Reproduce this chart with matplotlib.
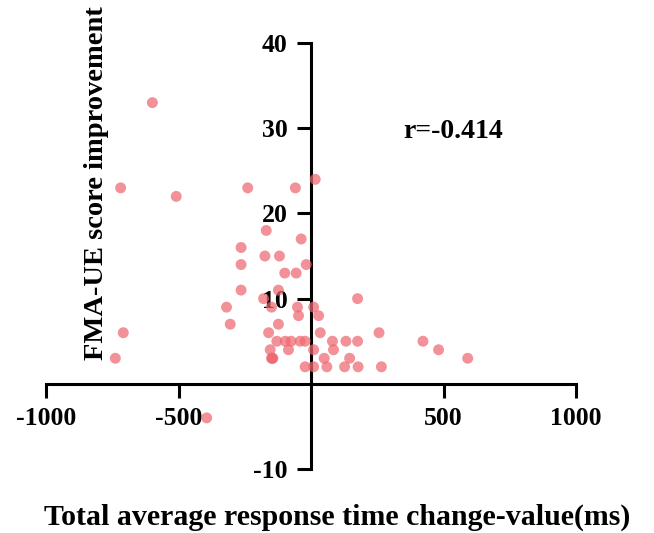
import matplotlib
matplotlib.use("Agg")
import matplotlib.pyplot as plt

rt_change = [-740, -710, -720, -600, -510, -395, -320, -306, -265, -265, -265, -240,
             -170, -175, -120, -180, -150, -124, -100, -57, -19, -38, -60, 15,
             -52, -48, -124, -161, -130, -98, -76, -42, -23, -155, -86, -150, -145, -147,
             -23, 9, 9, 9, 28, 34, 80, 131, 175, 84, 49, 145, 59, 126, 177, 265,
             256, 175, 422, 481, 591]
fma_improve = [3, 6, 23, 33, 22, -4, 9, 7, 16, 14, 11, 23,
               18, 15, 15, 10, 9, 11, 13, 13, 14, 17, 23, 24,
               9, 8, 7, 6, 5, 5, 5, 5, 5, 4, 4, 3, 3, 3,
               2, 2, 4, 9, 8, 6, 5, 5, 5, 4, 3, 3, 2, 2, 2, 2,
               6, 10, 5, 4, 3]

xticks = [-1000, -500, 500, 1000]
yticks = [-10, 10, 20, 30, 40]

plt.rcParams['font.family'] = ['Liberation Serif', 'DejaVu Serif']
plt.rcParams['font.weight'] = 'bold'

fig = plt.figure(figsize=(6.54, 5.33), dpi=100)
ax = fig.add_axes([0.0711, 0.120, 0.8096, 0.7993])

ax.scatter(rt_change, fma_improve, s=62, color='#ee6870', alpha=0.72,
           edgecolors='none', zorder=3)

ax.set_xlim(-1000, 1000)
ax.set_ylim(-10, 40)
ax.spines['left'].set_position(('data', 0))
ax.spines['bottom'].set_position(('data', 0))
ax.spines['top'].set_visible(False)
ax.spines['right'].set_visible(False)
for s in ['left', 'bottom']:
    ax.spines[s].set_linewidth(2.2)

ax.set_xticks(xticks)
ax.set_xticklabels([str(v) for v in xticks])
ax.set_yticks(yticks)
ax.set_yticklabels([str(v) for v in yticks])
ax.tick_params(axis='both', direction='out', length=10, width=2.2,
               labelsize=18.5, pad=7)
for lab in ax.get_xticklabels() + ax.get_yticklabels():
    lab.set_fontweight('bold')

ax.text(348, 29.6, 'r=-0.414', fontsize=20, fontweight='bold',
        ha='left', va='center')

fig.text(0.147, 0.657, 'FMA-UE score improvement', rotation=90,
         fontsize=20.5, fontweight='bold', ha='center', va='center')
fig.text(0.515, 0.03, 'Total average response time change-value(ms)',
         fontsize=21.5, fontweight='bold', ha='center', va='center')

fig.savefig('out.png', dpi=100)
